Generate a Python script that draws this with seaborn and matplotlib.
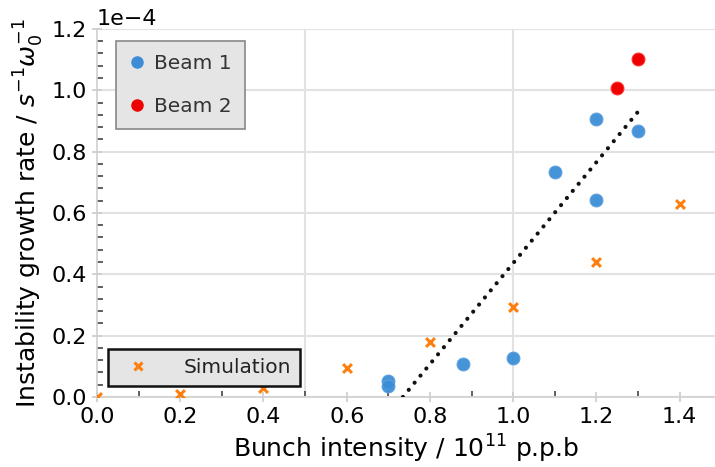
import matplotlib
matplotlib.use("Agg")
import matplotlib.pyplot as plt
import numpy as np
import pandas as pd
import seaborn as sns
from matplotlib.lines import Line2D
from matplotlib.ticker import MultipleLocator, AutoMinorLocator

# measured growth rates (units of 1e-4 s^-1 w0^-1)
beam1_intensity = [0.70, 0.70, 0.88, 1.00, 1.10, 1.20, 1.20, 1.30]
beam1_rate = [0.052, 0.036, 0.108, 0.127, 0.734, 0.906, 0.642, 0.867]

beam2_intensity = [1.25, 1.30]
beam2_rate = [1.007, 1.102]

sim_intensity = [0.0, 0.2, 0.4, 0.6, 0.8, 1.0, 1.2, 1.4]
sim_rate = [0.0, 0.010, 0.030, 0.095, 0.179, 0.293, 0.440, 0.629]

# linear fit to the beam data
fit_intensity = [0.735, 1.30]
fit_rate = [0.0, 0.93]

scale = 1e-4

b1 = pd.DataFrame({"x": beam1_intensity, "y": np.array(beam1_rate) * scale})
b2 = pd.DataFrame({"x": beam2_intensity, "y": np.array(beam2_rate) * scale})
sim = pd.DataFrame({"x": sim_intensity, "y": np.array(sim_rate) * scale})
fit = pd.DataFrame({"x": fit_intensity, "y": np.array(fit_rate) * scale})

sns.set_theme(style="whitegrid")
plt.rcParams["font.family"] = ["DejaVu Sans"]
plt.rcParams["mathtext.fontset"] = "dejavusans"
plt.rcParams["text.color"] = "black"
plt.rcParams["axes.labelcolor"] = "black"
plt.rcParams["xtick.labelcolor"] = "black"
plt.rcParams["ytick.labelcolor"] = "black"

blue = "#3d8dd6"
red = "#ee0000"
orange = "#ff7f0e"
grid_c = "#e2e2e2"

fig, ax = plt.subplots(figsize=(7.15, 4.67), dpi=100)
fig.subplots_adjust(left=0.1357, right=1.0, bottom=0.15, top=0.938)

sns.lineplot(data=fit, x="x", y="y", ax=ax, color="#111111", lw=3.0,
             linestyle=(0, (0.01, 2.2)), dash_capstyle="round", zorder=3)
sns.scatterplot(data=sim, x="x", y="y", ax=ax, marker="x", s=40, color=orange,
                linewidth=2.2, zorder=4, clip_on=True)
sns.scatterplot(data=b1, x="x", y="y", ax=ax, s=85, color=blue, edgecolor="#5aa0e0",
                linewidth=0.8, alpha=0.95, zorder=5)
sns.scatterplot(data=b2, x="x", y="y", ax=ax, s=85, color=red, edgecolor="#ff3030",
                linewidth=0.8, zorder=5)

ax.set_xlim(0, 1.485)
ax.set_ylim(0, 1.2e-4)

ax.xaxis.set_major_locator(MultipleLocator(0.2))
ax.xaxis.set_minor_locator(MultipleLocator(0.1))
ax.yaxis.set_major_locator(MultipleLocator(0.2e-4))
ax.yaxis.set_minor_locator(AutoMinorLocator(5))
ax.ticklabel_format(axis="y", style="sci", scilimits=(0, 0))

ax.grid(False, axis="x")
ax.grid(True, axis="y", color=grid_c, lw=1.5)
for xv in [0.5, 1.0]:
    ax.axvline(xv, color=grid_c, lw=1.5, zorder=0)

ax.tick_params(which="major", direction="inout", length=7, width=1.2,
               color="#cccccc", labelsize=16, pad=4, left=True, bottom=True)
ax.tick_params(which="minor", direction="in", length=4, width=1.2,
               color="#444444", left=True, bottom=True)
ax.yaxis.get_offset_text().set_fontsize(16)

for s in ["top", "right"]:
    ax.spines[s].set_visible(False)
for s in ["left", "bottom"]:
    ax.spines[s].set_color("#d0d0d0")
    ax.spines[s].set_linewidth(1.2)

ax.set_xlabel(r"Bunch intensity / $10^{11}$ p.p.b", fontsize=18)
ax.set_ylabel(r"Instability growth rate / $s^{-1}\omega_0^{-1}$", fontsize=18)

beam_handles = [
    Line2D([], [], marker="o", ls="", color=blue, markersize=8, label="Beam 1"),
    Line2D([], [], marker="o", ls="", color=red, markersize=8, label="Beam 2"),
]
leg1 = ax.legend(handles=beam_handles, loc="upper left", bbox_to_anchor=(0.031, 0.967),
                 borderaxespad=0, fontsize=14.5, frameon=True, fancybox=False,
                 facecolor="#e5e5e5", edgecolor="#888888", framealpha=1,
                 handlelength=0.8, handletextpad=0.45, labelspacing=1.2,
                 borderpad=0.65)
leg1.get_frame().set_linewidth(1.2)
for t in leg1.get_texts():
    t.set_color("#333333")
ax.add_artist(leg1)

sim_handle = [Line2D([], [], marker="x", ls="", color=orange, markersize=6,
                     markeredgewidth=2.2, label="Simulation")]
leg2 = ax.legend(handles=sim_handle, loc="lower left", bbox_to_anchor=(0.018, 0.03),
                 borderaxespad=0, fontsize=14.5, frameon=True, fancybox=False,
                 facecolor="#e5e5e5", edgecolor="#111111", framealpha=1,
                 handlelength=2.1, handletextpad=1.2, borderpad=0.45)
leg2.get_frame().set_linewidth(1.8)
for t in leg2.get_texts():
    t.set_color("#222222")

fig.savefig("out.png", dpi=100)
